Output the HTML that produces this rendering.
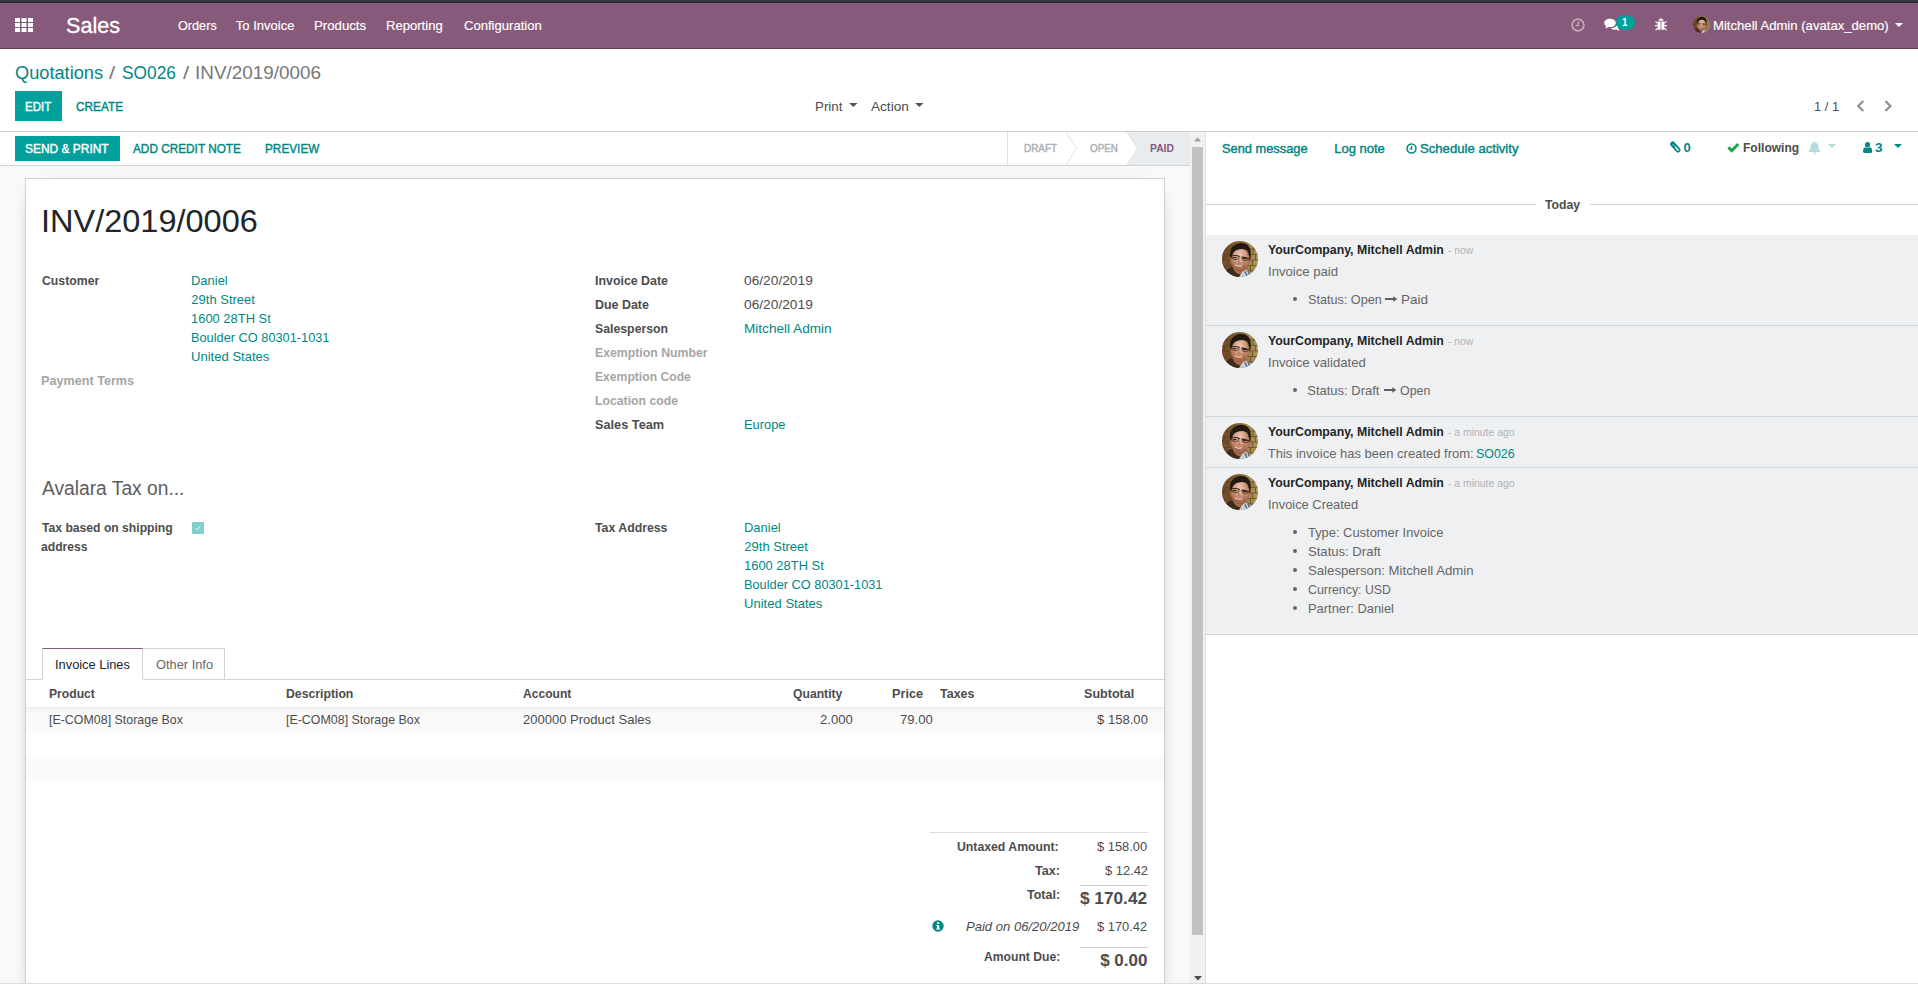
<!DOCTYPE html>
<html lang="en">
<head>
<meta charset="utf-8">
<title>INV/2019/0006 - Odoo</title>
<style>
html,body{margin:0;padding:0;}
body{width:1918px;height:984px;overflow:hidden;background:#fff;position:relative;
 font-family:"Liberation Sans",sans-serif;font-size:13px;color:#4c4c4c;}
.a{position:absolute;}
.t{position:absolute;white-space:nowrap;line-height:1;transform-origin:0 0;}
svg{position:absolute;overflow:visible;}
</style>
</head>
<body>
<!-- top dark strip -->
<div class="a" style="left:0;top:0;width:1918px;height:2px;background:#34373a;"></div><div class="a" style="left:0;top:2px;width:1918px;height:1px;background:#262929;"></div>
<!-- navbar -->
<div class="a" style="left:0;top:3px;width:1918px;height:45px;background:#875A7B;border-bottom:1px solid #5f3f57;"></div><div class="a" style="left:0;top:3px;width:1918px;height:1px;background:#8e5f82;"></div>
<!-- apps grid icon -->
<svg style="left:15px;top:18px" width="18" height="14" viewBox="0 0 18 14"><g fill="#fff">
<rect x="0" y="0" width="5" height="4"/><rect x="6.5" y="0" width="5" height="4"/><rect x="13" y="0" width="5" height="4"/>
<rect x="0" y="5" width="5" height="4"/><rect x="6.5" y="5" width="5" height="4"/><rect x="13" y="5" width="5" height="4"/>
<rect x="0" y="10" width="5" height="4"/><rect x="6.5" y="10" width="5" height="4"/><rect x="13" y="10" width="5" height="4"/>
</g></svg>
<svg style="left:1571px;top:17.500px" width="14" height="14" viewBox="0 0 14 14"><circle cx="7" cy="7" r="5.9" fill="none" stroke="#fff" stroke-opacity=".5" stroke-width="1.6"/><path d="M7.3 3.6v3.9H4.6" fill="none" stroke="#fff" stroke-opacity=".5" stroke-width="1.5"/></svg>
<svg style="left:1604px;top:18px" width="16" height="14" viewBox="0 0 16 14"><g fill="#fff"><path d="M6 0.8C2.7 0.8 0.2 2.6 0.2 5c0 1.3.8 2.4 2 3.2-.2.8-.7 1.500-1.300 2.100 1.400-.1 2.700-.6 3.600-1.400.5.1 1 .1 1.500.1 3.300 0 5.800-1.800 5.800-4.100S9.300.8 6 .8z"/><path d="M13.8 10.500c1.200-.7 2-1.800 2-3 0-1.300-.9-2.500-2.300-3.200.1.300.1.700.1 1 0 2.900-3.100 5.100-7 5.200 1 .9 2.600 1.500 4.400 1.500.5 0 1 0 1.500-.1.900.8 2.100 1.300 3.500 1.400-.6-.6-1.100-1.300-1.300-2.100z" transform="translate(0,-0.300)"/></g></svg>
<div class="a" style="left:1616px;top:15px;width:19px;height:15px;border-radius:8px;background:#00A09D;"></div>
<svg style="left:1655px;top:18px" width="12" height="13" viewBox="0 0 12 13"><g fill="#fff"><path d="M3.600 2.700a2.400 2.200 0 0 1 4.800 0z"/><rect x="2.600" y="3.500" width="3" height="8.300" rx=".6"/><rect x="6.400" y="3.500" width="3" height="8.300" rx=".6"/></g><g stroke="#fff" stroke-width="1.1" fill="none"><path d="M2.600 5.200L.5 3.300M9.400 5.200l2.100-1.900M2.600 7.600H0M9.400 7.600H12M2.600 10l-2 2.300M9.400 10l2 2.300"/></g></svg>
<svg style="left:1693px;top:16px" width="17" height="17" viewBox="0 0 36 36">
<defs><clipPath id="cpa1"><circle cx="18" cy="18" r="18"/></clipPath>
<radialGradient id="fga1" cx=".55" cy=".32" r=".75"><stop offset="0" stop-color="#ecc9b6"/><stop offset=".45" stop-color="#cf987c"/><stop offset=".8" stop-color="#a8694c"/><stop offset="1" stop-color="#7c4a33"/></radialGradient>
<linearGradient id="bga1" x1="0" x2="1" y1="0" y2="0"><stop offset="0" stop-color="#6a4526"/><stop offset=".35" stop-color="#7d5a30"/><stop offset=".7" stop-color="#9c8148"/><stop offset="1" stop-color="#ac9658"/></linearGradient></defs>
<g clip-path="url(#cpa1)">
<rect width="36" height="36" fill="url(#bga1)"/>
<g stroke="#5b4323" stroke-width=".9" fill="none" opacity=".75"><path d="M0 8h36M0 13.500h36M0 19h36M0 24.500h36M0 30h36"/><path d="M5 8v5.500M31 8v5.500M2 13.500V19M33.500 13.500V19M5.500 19v5.500M30.500 19v5.500M2.500 24.500V30M28.500 24.500V30M32 2.500V8"/></g>
<rect x="1" y="9" width="4" height="4" fill="#8a4a2c" opacity=".55"/><rect x="0" y="19.500" width="5" height="4.500" fill="#8c4f2e" opacity=".5"/>
<path d="M1 36 L5 28.500 Q10 23.500 15 28.500 L21 36 Z" fill="#3f2a1e"/>
<path d="M17 36 L21 29.500 Q26.500 27 31.500 36 Z" fill="#c9d1d8"/>
<path d="M22.800 30.300 l2.600 5.200 M25.800 29.800 l2.200 4.700" stroke="#3f5f7c" stroke-width="1.300"/>
<path d="M10.500 26 Q12.500 32.500 18.500 33.500 L21.500 29.500 L17 24 Z" fill="#a8694c"/>
<ellipse cx="17.600" cy="18.200" rx="9.300" ry="12.300" fill="url(#fga1)" transform="rotate(-9 17.600 18.200)"/>
<ellipse cx="27.300" cy="19" rx="1.500" ry="2.700" fill="#b57b5e"/>
<path d="M7.800 15 Q7.500 3.500 18.500 1.800 Q29 1.800 28.800 13.500 Q28.700 18.500 27.600 21 Q27.600 13 24.800 9.300 Q19 6.600 13.300 9.700 Q9.800 12.300 9.300 18.500 Z" fill="#241a13"/>
<path d="M9.200 15 Q13.300 13.700 17.800 15.500 M19.500 16.100 Q23.200 16 27.300 17.900" stroke="#33241c" stroke-width="1.100" fill="none"/>
<path d="M9.700 15.400 q.2 3.300 3.500 3.400 q3.300-.1 3.900-3.100" stroke="#443126" stroke-width=".8" fill="none"/>
<path d="M19.800 16.400 q.2 3.300 3.300 3.500 q2.900 0 3.400-2.700" stroke="#443126" stroke-width=".8" fill="none"/>
<path d="M11.300 16.600 h3.200 M21 17.600 h3.200" stroke="#2f211a" stroke-width="1.100"/>
<path d="M17.300 17.300 q-1 3 -.4 4.700 q.9 .6 2 .1" stroke="#a0604a" stroke-width=".8" fill="none"/>
<path d="M11.800 23.500 q4.200 3.500 8.800 1.300 q-3.600 4.200 -8.800 -1.300z" fill="#74292a"/>
<path d="M12.700 24 q3.600 2.300 7.200 .9" stroke="#f3e7df" stroke-width="1" fill="none"/>
<path d="M21.500 20.800 q1.700 3 .2 7.200" stroke="#9a5843" stroke-width="1" fill="none" opacity=".7"/>
</g></svg>
<svg style="left:1895px;top:23px" width="8" height="4" viewBox="0 0 8 4"><path d="M0 0h8L4 4z" fill="#fff"/></svg>

<!-- control panel -->
<div class="a" style="left:0;top:131px;width:1918px;height:1px;background:#ccc;"></div>
<div class="a" style="left:15px;top:91px;width:47px;height:30px;background:#00A09D;"></div>
<svg style="left:849px;top:103px" width="9" height="4" viewBox="0 0 9 4"><path d="M0 0h8.600L4.300 4z" fill="#555"/></svg>
<svg style="left:915px;top:103px" width="9" height="4" viewBox="0 0 9 4"><path d="M0 0h8.600L4.300 4z" fill="#555"/></svg>
<svg style="left:1856px;top:100px" width="9" height="12" viewBox="0 0 9 12"><path d="M7.300 1L2.300 6l5 5" fill="none" stroke="#8f9398" stroke-width="2.300"/></svg>
<svg style="left:1884px;top:100px" width="9" height="12" viewBox="0 0 9 12"><path d="M1.400 1l5 5-5 5" fill="none" stroke="#8f9398" stroke-width="2.300"/></svg>

<!-- form area bg -->
<div class="a" style="left:0;top:132px;width:1205px;height:852px;background:#f9f9f9;"></div>
<!-- statusbar -->
<div class="a" style="left:0;top:132px;width:1190px;height:33px;background:#fff;border-bottom:1px solid #ced4da;"></div>
<div class="a" style="left:15px;top:136px;width:105px;height:25px;background:#00A09D;"></div>
<div class="a" style="left:1007px;top:132px;width:1px;height:33px;background:#dee2e6;"></div>
<svg style="left:1060px;top:132px" width="130" height="33" viewBox="0 0 130 33"><path d="M67 0H130V33H67L77.500 16.500z" fill="#e9ecef"/><path d="M6 0L16.500 16.500 6 33" fill="none" stroke="#dee2e6" stroke-width="1"/><path d="M67 0L77.500 16.500 67 33" fill="none" stroke="#dee2e6" stroke-width="1"/></svg>

<!-- sheet -->
<div class="a" style="left:25px;top:178px;width:1138px;height:820px;background:#fff;border:1px solid #ccd1d8;box-shadow:0 5px 20px -15px #000;"></div>
<div class="a" style="left:192px;top:522px;width:12px;height:12px;background:#7fcfcd;border-radius:1px;"></div>
<svg style="left:195px;top:525px" width="6" height="6" viewBox="0 0 6 6"><path d="M.800 3.200l1.400 1.400L5.200 1.300" fill="none" stroke="#fff" stroke-width="1"/></svg>
<div class="a" style="left:26px;top:679px;width:1138px;height:1px;background:#ced4da;"></div>
<div class="a" style="left:42px;top:648px;width:99px;height:30px;background:#fff;border:1px solid #ced4da;border-top-color:#875A7B;border-bottom:1px solid #fff;"></div>
<div class="a" style="left:143px;top:648px;width:81px;height:30px;background:#fff;border:1px solid #ced4da;border-left:none;border-bottom:none;"></div>
<div class="a" style="left:26px;top:707px;width:1138px;height:25px;background:linear-gradient(#ebebeb 0,#f4f4f4 2px,#f8f8f8 5px,#fafafa 9px);"></div>
<div class="a" style="left:26px;top:756.600px;width:1138px;height:24.600px;background:#fafafa;"></div>
<div class="a" style="left:930px;top:832px;width:218px;height:1px;background:#dcdcdc;"></div>
<div class="a" style="left:1080px;top:885px;width:68px;height:1px;background:#ccc;"></div>
<div class="a" style="left:1080px;top:947px;width:68px;height:1px;background:#ccc;"></div>
<svg style="left:932px;top:920px" width="12" height="12" viewBox="0 0 12 12"><circle cx="6" cy="6" r="5.700" fill="#008784"/><rect x="5" y="5" width="2.200" height="4.300" fill="#fff"/><rect x="4.200" y="5" width="2" height="1" fill="#fff"/><rect x="4.200" y="8.500" width="3.800" height="1" fill="#fff"/><rect x="5" y="2.300" width="2.200" height="1.700" fill="#fff"/></svg>

<!-- scrollbar -->
<div class="a" style="left:1190px;top:132px;width:15px;height:852px;background:#f1f1f1;"></div>
<div class="a" style="left:1192px;top:147px;width:11px;height:788px;background:#c1c1c1;"></div>
<svg style="left:1193.800px;top:137.200px" width="8" height="5" viewBox="0 0 8 5"><path d="M0 4.400h7.200L3.600 .300z" fill="#a3a3a3"/></svg>
<svg style="left:1193.700px;top:976px" width="9" height="5" viewBox="0 0 9 5"><path d="M0 0h8L4 4.500z" fill="#505050"/></svg>

<!-- chatter -->
<div class="a" style="left:1205px;top:132px;width:713px;height:852px;background:#fff;border-left:1px solid #dfe3e9;box-sizing:border-box;"></div>
<div class="a" style="left:1206px;top:204px;width:329.500px;height:1px;background:#ced4da;"></div>
<div class="a" style="left:1590px;top:204px;width:328px;height:1px;background:#ced4da;"></div>
<div class="a" style="left:1206px;top:235px;width:712px;height:90px;background:#eff0f2;border-bottom:1px solid #d1d6dc;"></div>
<div class="a" style="left:1206px;top:326px;width:712px;height:90px;background:#eff0f2;border-bottom:1px solid #d1d6dc;"></div>
<div class="a" style="left:1206px;top:417px;width:712px;height:50px;background:#eff0f2;border-bottom:1px solid #d1d6dc;"></div>
<div class="a" style="left:1206px;top:468px;width:712px;height:166px;background:#eff0f2;border-bottom:1px solid #d1d6dc;"></div>
<svg style="left:1222px;top:241px" width="36" height="36" viewBox="0 0 36 36">
<defs><clipPath id="cpa2"><circle cx="18" cy="18" r="18"/></clipPath>
<radialGradient id="fga2" cx=".55" cy=".32" r=".75"><stop offset="0" stop-color="#ecc9b6"/><stop offset=".45" stop-color="#cf987c"/><stop offset=".8" stop-color="#a8694c"/><stop offset="1" stop-color="#7c4a33"/></radialGradient>
<linearGradient id="bga2" x1="0" x2="1" y1="0" y2="0"><stop offset="0" stop-color="#6a4526"/><stop offset=".35" stop-color="#7d5a30"/><stop offset=".7" stop-color="#9c8148"/><stop offset="1" stop-color="#ac9658"/></linearGradient></defs>
<g clip-path="url(#cpa2)">
<rect width="36" height="36" fill="url(#bga2)"/>
<g stroke="#5b4323" stroke-width=".9" fill="none" opacity=".75"><path d="M0 8h36M0 13.500h36M0 19h36M0 24.500h36M0 30h36"/><path d="M5 8v5.500M31 8v5.500M2 13.500V19M33.500 13.500V19M5.500 19v5.500M30.500 19v5.500M2.500 24.500V30M28.500 24.500V30M32 2.500V8"/></g>
<rect x="1" y="9" width="4" height="4" fill="#8a4a2c" opacity=".55"/><rect x="0" y="19.500" width="5" height="4.500" fill="#8c4f2e" opacity=".5"/>
<path d="M1 36 L5 28.500 Q10 23.500 15 28.500 L21 36 Z" fill="#3f2a1e"/>
<path d="M17 36 L21 29.500 Q26.500 27 31.500 36 Z" fill="#c9d1d8"/>
<path d="M22.800 30.300 l2.600 5.200 M25.800 29.800 l2.200 4.700" stroke="#3f5f7c" stroke-width="1.300"/>
<path d="M10.500 26 Q12.500 32.500 18.500 33.500 L21.500 29.500 L17 24 Z" fill="#a8694c"/>
<ellipse cx="17.600" cy="18.200" rx="9.300" ry="12.300" fill="url(#fga2)" transform="rotate(-9 17.600 18.200)"/>
<ellipse cx="27.300" cy="19" rx="1.500" ry="2.700" fill="#b57b5e"/>
<path d="M7.800 15 Q7.500 3.500 18.500 1.800 Q29 1.800 28.800 13.500 Q28.700 18.500 27.600 21 Q27.600 13 24.800 9.300 Q19 6.600 13.300 9.700 Q9.800 12.300 9.300 18.500 Z" fill="#241a13"/>
<path d="M9.200 15 Q13.300 13.700 17.800 15.500 M19.500 16.100 Q23.200 16 27.300 17.900" stroke="#33241c" stroke-width="1.100" fill="none"/>
<path d="M9.700 15.400 q.2 3.300 3.500 3.400 q3.300-.1 3.900-3.100" stroke="#443126" stroke-width=".8" fill="none"/>
<path d="M19.800 16.400 q.2 3.300 3.300 3.500 q2.900 0 3.400-2.700" stroke="#443126" stroke-width=".8" fill="none"/>
<path d="M11.300 16.600 h3.200 M21 17.600 h3.200" stroke="#2f211a" stroke-width="1.100"/>
<path d="M17.300 17.300 q-1 3 -.4 4.700 q.9 .6 2 .1" stroke="#a0604a" stroke-width=".8" fill="none"/>
<path d="M11.800 23.500 q4.200 3.500 8.800 1.300 q-3.600 4.200 -8.800 -1.300z" fill="#74292a"/>
<path d="M12.700 24 q3.600 2.300 7.200 .9" stroke="#f3e7df" stroke-width="1" fill="none"/>
<path d="M21.500 20.800 q1.700 3 .2 7.200" stroke="#9a5843" stroke-width="1" fill="none" opacity=".7"/>
</g></svg>
<svg style="left:1222px;top:332px" width="36" height="36" viewBox="0 0 36 36">
<defs><clipPath id="cpa3"><circle cx="18" cy="18" r="18"/></clipPath>
<radialGradient id="fga3" cx=".55" cy=".32" r=".75"><stop offset="0" stop-color="#ecc9b6"/><stop offset=".45" stop-color="#cf987c"/><stop offset=".8" stop-color="#a8694c"/><stop offset="1" stop-color="#7c4a33"/></radialGradient>
<linearGradient id="bga3" x1="0" x2="1" y1="0" y2="0"><stop offset="0" stop-color="#6a4526"/><stop offset=".35" stop-color="#7d5a30"/><stop offset=".7" stop-color="#9c8148"/><stop offset="1" stop-color="#ac9658"/></linearGradient></defs>
<g clip-path="url(#cpa3)">
<rect width="36" height="36" fill="url(#bga3)"/>
<g stroke="#5b4323" stroke-width=".9" fill="none" opacity=".75"><path d="M0 8h36M0 13.500h36M0 19h36M0 24.500h36M0 30h36"/><path d="M5 8v5.500M31 8v5.500M2 13.500V19M33.500 13.500V19M5.500 19v5.500M30.500 19v5.500M2.500 24.500V30M28.500 24.500V30M32 2.500V8"/></g>
<rect x="1" y="9" width="4" height="4" fill="#8a4a2c" opacity=".55"/><rect x="0" y="19.500" width="5" height="4.500" fill="#8c4f2e" opacity=".5"/>
<path d="M1 36 L5 28.500 Q10 23.500 15 28.500 L21 36 Z" fill="#3f2a1e"/>
<path d="M17 36 L21 29.500 Q26.500 27 31.500 36 Z" fill="#c9d1d8"/>
<path d="M22.800 30.300 l2.600 5.200 M25.800 29.800 l2.200 4.700" stroke="#3f5f7c" stroke-width="1.300"/>
<path d="M10.500 26 Q12.500 32.500 18.500 33.500 L21.500 29.500 L17 24 Z" fill="#a8694c"/>
<ellipse cx="17.600" cy="18.200" rx="9.300" ry="12.300" fill="url(#fga3)" transform="rotate(-9 17.600 18.200)"/>
<ellipse cx="27.300" cy="19" rx="1.500" ry="2.700" fill="#b57b5e"/>
<path d="M7.800 15 Q7.500 3.500 18.500 1.800 Q29 1.800 28.800 13.500 Q28.700 18.500 27.600 21 Q27.600 13 24.800 9.300 Q19 6.600 13.300 9.700 Q9.800 12.300 9.300 18.500 Z" fill="#241a13"/>
<path d="M9.200 15 Q13.300 13.700 17.800 15.500 M19.500 16.100 Q23.200 16 27.300 17.900" stroke="#33241c" stroke-width="1.100" fill="none"/>
<path d="M9.700 15.400 q.2 3.300 3.500 3.400 q3.300-.1 3.900-3.100" stroke="#443126" stroke-width=".8" fill="none"/>
<path d="M19.800 16.400 q.2 3.300 3.300 3.500 q2.900 0 3.400-2.700" stroke="#443126" stroke-width=".8" fill="none"/>
<path d="M11.300 16.600 h3.200 M21 17.600 h3.200" stroke="#2f211a" stroke-width="1.100"/>
<path d="M17.300 17.300 q-1 3 -.4 4.700 q.9 .6 2 .1" stroke="#a0604a" stroke-width=".8" fill="none"/>
<path d="M11.800 23.500 q4.200 3.500 8.800 1.300 q-3.600 4.200 -8.800 -1.300z" fill="#74292a"/>
<path d="M12.700 24 q3.600 2.300 7.200 .9" stroke="#f3e7df" stroke-width="1" fill="none"/>
<path d="M21.500 20.800 q1.700 3 .2 7.200" stroke="#9a5843" stroke-width="1" fill="none" opacity=".7"/>
</g></svg>
<svg style="left:1222px;top:423px" width="36" height="36" viewBox="0 0 36 36">
<defs><clipPath id="cpa4"><circle cx="18" cy="18" r="18"/></clipPath>
<radialGradient id="fga4" cx=".55" cy=".32" r=".75"><stop offset="0" stop-color="#ecc9b6"/><stop offset=".45" stop-color="#cf987c"/><stop offset=".8" stop-color="#a8694c"/><stop offset="1" stop-color="#7c4a33"/></radialGradient>
<linearGradient id="bga4" x1="0" x2="1" y1="0" y2="0"><stop offset="0" stop-color="#6a4526"/><stop offset=".35" stop-color="#7d5a30"/><stop offset=".7" stop-color="#9c8148"/><stop offset="1" stop-color="#ac9658"/></linearGradient></defs>
<g clip-path="url(#cpa4)">
<rect width="36" height="36" fill="url(#bga4)"/>
<g stroke="#5b4323" stroke-width=".9" fill="none" opacity=".75"><path d="M0 8h36M0 13.500h36M0 19h36M0 24.500h36M0 30h36"/><path d="M5 8v5.500M31 8v5.500M2 13.500V19M33.500 13.500V19M5.500 19v5.500M30.500 19v5.500M2.500 24.500V30M28.500 24.500V30M32 2.500V8"/></g>
<rect x="1" y="9" width="4" height="4" fill="#8a4a2c" opacity=".55"/><rect x="0" y="19.500" width="5" height="4.500" fill="#8c4f2e" opacity=".5"/>
<path d="M1 36 L5 28.500 Q10 23.500 15 28.500 L21 36 Z" fill="#3f2a1e"/>
<path d="M17 36 L21 29.500 Q26.500 27 31.500 36 Z" fill="#c9d1d8"/>
<path d="M22.800 30.300 l2.600 5.200 M25.800 29.800 l2.200 4.700" stroke="#3f5f7c" stroke-width="1.300"/>
<path d="M10.500 26 Q12.500 32.500 18.500 33.500 L21.500 29.500 L17 24 Z" fill="#a8694c"/>
<ellipse cx="17.600" cy="18.200" rx="9.300" ry="12.300" fill="url(#fga4)" transform="rotate(-9 17.600 18.200)"/>
<ellipse cx="27.300" cy="19" rx="1.500" ry="2.700" fill="#b57b5e"/>
<path d="M7.800 15 Q7.500 3.500 18.500 1.800 Q29 1.800 28.800 13.500 Q28.700 18.500 27.600 21 Q27.600 13 24.800 9.300 Q19 6.600 13.300 9.700 Q9.800 12.300 9.300 18.500 Z" fill="#241a13"/>
<path d="M9.200 15 Q13.300 13.700 17.800 15.500 M19.500 16.100 Q23.200 16 27.300 17.900" stroke="#33241c" stroke-width="1.100" fill="none"/>
<path d="M9.700 15.400 q.2 3.300 3.500 3.400 q3.300-.1 3.900-3.100" stroke="#443126" stroke-width=".8" fill="none"/>
<path d="M19.800 16.400 q.2 3.300 3.300 3.500 q2.900 0 3.400-2.700" stroke="#443126" stroke-width=".8" fill="none"/>
<path d="M11.300 16.600 h3.200 M21 17.600 h3.200" stroke="#2f211a" stroke-width="1.100"/>
<path d="M17.300 17.300 q-1 3 -.4 4.700 q.9 .6 2 .1" stroke="#a0604a" stroke-width=".8" fill="none"/>
<path d="M11.800 23.500 q4.200 3.500 8.800 1.300 q-3.600 4.200 -8.800 -1.300z" fill="#74292a"/>
<path d="M12.700 24 q3.600 2.300 7.200 .9" stroke="#f3e7df" stroke-width="1" fill="none"/>
<path d="M21.500 20.800 q1.700 3 .2 7.200" stroke="#9a5843" stroke-width="1" fill="none" opacity=".7"/>
</g></svg>
<svg style="left:1222px;top:474px" width="36" height="36" viewBox="0 0 36 36">
<defs><clipPath id="cpa5"><circle cx="18" cy="18" r="18"/></clipPath>
<radialGradient id="fga5" cx=".55" cy=".32" r=".75"><stop offset="0" stop-color="#ecc9b6"/><stop offset=".45" stop-color="#cf987c"/><stop offset=".8" stop-color="#a8694c"/><stop offset="1" stop-color="#7c4a33"/></radialGradient>
<linearGradient id="bga5" x1="0" x2="1" y1="0" y2="0"><stop offset="0" stop-color="#6a4526"/><stop offset=".35" stop-color="#7d5a30"/><stop offset=".7" stop-color="#9c8148"/><stop offset="1" stop-color="#ac9658"/></linearGradient></defs>
<g clip-path="url(#cpa5)">
<rect width="36" height="36" fill="url(#bga5)"/>
<g stroke="#5b4323" stroke-width=".9" fill="none" opacity=".75"><path d="M0 8h36M0 13.500h36M0 19h36M0 24.500h36M0 30h36"/><path d="M5 8v5.500M31 8v5.500M2 13.500V19M33.500 13.500V19M5.500 19v5.500M30.500 19v5.500M2.500 24.500V30M28.500 24.500V30M32 2.500V8"/></g>
<rect x="1" y="9" width="4" height="4" fill="#8a4a2c" opacity=".55"/><rect x="0" y="19.500" width="5" height="4.500" fill="#8c4f2e" opacity=".5"/>
<path d="M1 36 L5 28.500 Q10 23.500 15 28.500 L21 36 Z" fill="#3f2a1e"/>
<path d="M17 36 L21 29.500 Q26.500 27 31.500 36 Z" fill="#c9d1d8"/>
<path d="M22.800 30.300 l2.600 5.200 M25.800 29.800 l2.200 4.700" stroke="#3f5f7c" stroke-width="1.300"/>
<path d="M10.500 26 Q12.500 32.500 18.500 33.500 L21.500 29.500 L17 24 Z" fill="#a8694c"/>
<ellipse cx="17.600" cy="18.200" rx="9.300" ry="12.300" fill="url(#fga5)" transform="rotate(-9 17.600 18.200)"/>
<ellipse cx="27.300" cy="19" rx="1.500" ry="2.700" fill="#b57b5e"/>
<path d="M7.800 15 Q7.500 3.500 18.500 1.800 Q29 1.800 28.800 13.500 Q28.700 18.500 27.600 21 Q27.600 13 24.800 9.300 Q19 6.600 13.300 9.700 Q9.800 12.300 9.300 18.500 Z" fill="#241a13"/>
<path d="M9.200 15 Q13.300 13.700 17.800 15.500 M19.500 16.100 Q23.200 16 27.300 17.900" stroke="#33241c" stroke-width="1.100" fill="none"/>
<path d="M9.700 15.400 q.2 3.300 3.500 3.400 q3.300-.1 3.900-3.100" stroke="#443126" stroke-width=".8" fill="none"/>
<path d="M19.800 16.400 q.2 3.300 3.300 3.500 q2.900 0 3.400-2.700" stroke="#443126" stroke-width=".8" fill="none"/>
<path d="M11.300 16.600 h3.200 M21 17.600 h3.200" stroke="#2f211a" stroke-width="1.100"/>
<path d="M17.300 17.300 q-1 3 -.4 4.700 q.9 .6 2 .1" stroke="#a0604a" stroke-width=".8" fill="none"/>
<path d="M11.800 23.500 q4.200 3.500 8.800 1.300 q-3.600 4.200 -8.800 -1.300z" fill="#74292a"/>
<path d="M12.700 24 q3.600 2.300 7.200 .9" stroke="#f3e7df" stroke-width="1" fill="none"/>
<path d="M21.500 20.800 q1.700 3 .2 7.200" stroke="#9a5843" stroke-width="1" fill="none" opacity=".7"/>
</g></svg>
<svg style="left:1406px;top:143px" width="11" height="11" viewBox="0 0 11 11"><circle cx="5.500" cy="5.500" r="4.500" fill="none" stroke="#008784" stroke-width="1.500"/><path d="M5.700 3v2.800H3.600" fill="none" stroke="#008784" stroke-width="1.300"/></svg>
<svg style="left:1669px;top:140px" width="13" height="14" viewBox="0 0 13 14"><path d="M3.600 4L9.100 10" stroke="#008784" stroke-width="5" stroke-linecap="round" fill="none"/><path d="M4 4.400L6 6.600" stroke="#fff" stroke-width=".9" stroke-linecap="round" opacity=".7"/><path d="M6.800 7.600L9.200 10.200" stroke="#fff" stroke-width="1.500" stroke-linecap="round"/></svg>
<svg style="left:1727px;top:142px" width="13" height="11" viewBox="0 0 13 11"><path d="M1.400 5.400L4.800 8.700 11.200 2" fill="none" stroke="#1aa64a" stroke-width="2.900"/></svg>
<svg style="left:1808px;top:141px" width="13" height="13" viewBox="0 0 13 13"><path d="M6.500 0.500c.5 0 .8.300.8.800v.3c1.900.4 3.100 2 3.100 4 0 2.400.6 3.600 1.900 4.700v.7H.700v-.7C2 9.200 2.600 8 2.600 5.600c0-2 1.200-3.600 3.100-4v-.3c0-.5.300-.8.800-.8zM5 11.500h3a1.500 1.500 0 0 1-3 0z" fill="#b2dcdb"/></svg>
<svg style="left:1828px;top:144px" width="8" height="4" viewBox="0 0 8 4"><path d="M0 0h8L4 4z" fill="#b2dcdb"/></svg>
<svg style="left:1862.800px;top:141.700px" width="9.200" height="11" viewBox="0 0 9.200 11"><circle cx="4.600" cy="2.700" r="2.600" fill="#008784"/><path d="M0 9.300C0 6.500 1.200 5.300 2.800 5.200c.5.400 1.100.6 1.800.6s1.300-.2 1.800-.6C8 5.300 9.200 6.500 9.200 9.300c0 1-.6 1.600-1.500 1.600H1.500C.6 10.900 0 10.300 0 9.300z" fill="#008784"/></svg>
<svg style="left:1894px;top:144px" width="8" height="4" viewBox="0 0 8 4"><path d="M0 0h8L4 4z" fill="#008784"/></svg>

<div class="a" style="left:1292.900px;top:297.200px;width:4.100px;height:4.100px;border-radius:3px;background:#666;"></div>
<div class="a" style="left:1292.900px;top:388.200px;width:4.100px;height:4.100px;border-radius:3px;background:#666;"></div>
<div class="a" style="left:1292.900px;top:530.200px;width:4.100px;height:4.100px;border-radius:3px;background:#666;"></div>
<div class="a" style="left:1292.900px;top:549.200px;width:4.100px;height:4.100px;border-radius:3px;background:#666;"></div>
<div class="a" style="left:1292.900px;top:568.200px;width:4.100px;height:4.100px;border-radius:3px;background:#666;"></div>
<div class="a" style="left:1292.900px;top:587.200px;width:4.100px;height:4.100px;border-radius:3px;background:#666;"></div>
<div class="a" style="left:1292.900px;top:606.200px;width:4.100px;height:4.100px;border-radius:3px;background:#666;"></div>
<div class="a" style="left:0;top:983px;width:1918px;height:1px;background:#dcdcdc;"></div>
<svg style="left:1385px;top:296.2px" width="13" height="6" viewBox="0 0 13 6"><path d="M0 2.100H8.300V.300L12.400 3 8.300 5.700V3.900H0z" fill="#5f5f5f"/></svg>
<svg style="left:1383.6px;top:387.2px" width="13" height="6" viewBox="0 0 13 6"><path d="M0 2.100H8.300V.300L12.400 3 8.300 5.700V3.900H0z" fill="#5f5f5f"/></svg>
<span class="t" id="brand" style="top:15.18px;font-size:22px;color:#fff;transform:scaleX(0.9810);left:65.78px;-webkit-text-stroke:.3px #fff;">Sales</span>
<span class="t" id="m1" style="top:19.00px;font-size:13px;color:#fff;transform:scaleX(0.9748);left:177.80px;-webkit-text-stroke:.15px #fff;">Orders</span>
<span class="t" id="m2" style="top:19.00px;font-size:13px;color:#fff;left:235.86px;-webkit-text-stroke:.15px #fff;">To Invoice</span>
<span class="t" id="m3" style="top:19.00px;font-size:13px;color:#fff;transform:scaleX(1.0157);left:314.43px;-webkit-text-stroke:.15px #fff;">Products</span>
<span class="t" id="m4" style="top:19.00px;font-size:13px;color:#fff;transform:scaleX(1.0056);left:386.43px;-webkit-text-stroke:.15px #fff;">Reporting</span>
<span class="t" id="m5" style="top:19.00px;font-size:13px;color:#fff;transform:scaleX(1.0060);left:463.89px;-webkit-text-stroke:.15px #fff;">Configuration</span>
<span class="t" id="user" style="top:19.00px;font-size:13px;color:#fff;transform:scaleX(1.0092);left:1713.33px;-webkit-text-stroke:.15px #fff;">Mitchell Admin (avatax_demo)</span>
<span class="t" id="badge" style="top:17.11px;font-size:10.5px;color:#fff;font-weight:700;transform:scaleX(0.9298);left:1621.98px;">1</span>
<span class="t" id="bc1" style="top:63.76px;font-size:18px;color:#008784;transform:scaleX(1.0119);left:14.71px;">Quotations</span>
<span class="t" id="bc1s" style="top:63.76px;font-size:18px;color:#777;transform:scaleX(1.2278);left:109.20px;">/</span>
<span class="t" id="bc2" style="top:63.76px;font-size:18px;color:#008784;transform:scaleX(0.9622);left:121.54px;">SO026</span>
<span class="t" id="bc2s" style="top:63.76px;font-size:18px;color:#777;transform:scaleX(1.2278);left:182.60px;">/</span>
<span class="t" id="bc3" style="top:63.76px;font-size:18px;color:#777;transform:scaleX(1.0488);left:194.54px;">INV/2019/0006</span>
<span class="t" id="edit" style="top:100.00px;font-size:13px;color:#fff;-webkit-text-stroke:.42px #fff;transform:scaleX(0.8827);left:24.98px;">EDIT</span>
<span class="t" id="create" style="top:100.00px;font-size:13px;color:#008784;-webkit-text-stroke:.42px #008784;transform:scaleX(0.9082);left:76.15px;">CREATE</span>
<span class="t" id="print" style="top:100.00px;font-size:13px;color:#4c4c4c;transform:scaleX(1.0236);left:814.82px;">Print</span>
<span class="t" id="action" style="top:100.00px;font-size:13px;color:#4c4c4c;transform:scaleX(1.0455);left:870.79px;">Action</span>
<span class="t" id="pager" style="top:100.00px;font-size:13px;color:#4c4c4c;transform:scaleX(0.9902);left:1813.53px;">1 / 1</span>
<span class="t" id="sp" style="top:142.00px;font-size:13px;color:#fff;-webkit-text-stroke:.42px #fff;transform:scaleX(0.9189);left:25.06px;">SEND &amp; PRINT</span>
<span class="t" id="acn" style="top:142.00px;font-size:13px;color:#008784;-webkit-text-stroke:.42px #008784;transform:scaleX(0.9074);left:133.26px;">ADD CREDIT NOTE</span>
<span class="t" id="prev" style="top:142.00px;font-size:13px;color:#008784;-webkit-text-stroke:.42px #008784;transform:scaleX(0.9073);left:264.84px;">PREVIEW</span>
<span class="t" id="st1" style="top:142.69px;font-size:11px;color:#a9aeb5;-webkit-text-stroke:.42px #a9aeb5;transform:scaleX(0.9016);left:1024.11px;">DRAFT</span>
<span class="t" id="st2" style="top:142.69px;font-size:11px;color:#a9aeb5;-webkit-text-stroke:.42px #a9aeb5;transform:scaleX(0.8951);left:1089.55px;">OPEN</span>
<span class="t" id="st3" style="top:142.69px;font-size:11px;color:#875A7B;font-weight:700;transform:scaleX(0.9404);left:1149.80px;">PAID</span>
<span class="t" id="h1" style="top:205.76px;font-size:31px;color:#212529;transform:scaleX(1.0483);left:41.31px;">INV/2019/0006</span>
<span class="t" id="l_cust" style="top:274.00px;font-size:13px;color:#4c4c4c;font-weight:700;transform:scaleX(0.9435);left:42.05px;">Customer</span>
<span class="t" id="ca1" style="top:274.00px;font-size:13px;color:#008784;transform:scaleX(0.9972);left:191.01px;">Daniel</span>
<span class="t" id="ca2" style="top:293.00px;font-size:13px;color:#008784;left:191.32px;">29th Street</span>
<span class="t" id="ca3" style="top:312.00px;font-size:13px;color:#008784;transform:scaleX(0.9951);left:191.34px;">1600 28TH St</span>
<span class="t" id="ca4" style="top:331.00px;font-size:13px;color:#008784;transform:scaleX(0.9826);left:191.02px;">Boulder CO 80301-1031</span>
<span class="t" id="ca5" style="top:350.00px;font-size:13px;color:#008784;transform:scaleX(1.0046);left:190.96px;">United States</span>
<span class="t" id="l_pt" style="top:373.50px;font-size:13px;color:#a5a5a5;font-weight:700;transform:scaleX(0.9711);left:41.42px;">Payment Terms</span>
<span class="t" id="rl0" style="top:274.00px;font-size:13px;color:#4c4c4c;font-weight:700;transform:scaleX(0.9528);left:594.71px;">Invoice Date</span>
<span class="t" id="rl1" style="top:298.00px;font-size:13px;color:#4c4c4c;font-weight:700;transform:scaleX(0.9572);left:594.71px;">Due Date</span>
<span class="t" id="rl2" style="top:322.00px;font-size:13px;color:#4c4c4c;font-weight:700;transform:scaleX(0.9456);left:594.82px;">Salesperson</span>
<span class="t" id="rl3" style="top:346.00px;font-size:13px;color:#a5a5a5;font-weight:700;transform:scaleX(0.9444);left:594.76px;">Exemption Number</span>
<span class="t" id="rl4" style="top:370.00px;font-size:13px;color:#a5a5a5;font-weight:700;transform:scaleX(0.9341);left:594.76px;">Exemption Code</span>
<span class="t" id="rl5" style="top:394.00px;font-size:13px;color:#a5a5a5;font-weight:700;transform:scaleX(0.9417);left:594.76px;">Location code</span>
<span class="t" id="rl6" style="top:418.00px;font-size:13px;color:#4c4c4c;font-weight:700;transform:scaleX(0.9796);left:594.81px;">Sales Team</span>
<span class="t" id="rv0" style="top:274.00px;font-size:13px;color:#4c4c4c;transform:scaleX(1.0574);left:744.20px;">06/20/2019</span>
<span class="t" id="rv1" style="top:298.00px;font-size:13px;color:#4c4c4c;transform:scaleX(1.0574);left:744.20px;">06/20/2019</span>
<span class="t" id="rv2" style="top:322.00px;font-size:13px;color:#008784;transform:scaleX(1.0451);left:743.88px;">Mitchell Admin</span>
<span class="t" id="rv6" style="top:418.00px;font-size:13px;color:#008784;transform:scaleX(0.9887);left:744.01px;">Europe</span>
<span class="t" id="h2" style="top:477.87px;font-size:20px;color:#5e5e5e;transform:scaleX(0.9607);left:41.56px;">Avalara Tax on...</span>
<span class="t" id="l_tb1" style="top:520.50px;font-size:13px;color:#4c4c4c;font-weight:700;transform:scaleX(0.9344);left:41.70px;">Tax based on shipping</span>
<span class="t" id="l_tb2" style="top:539.50px;font-size:13px;color:#4c4c4c;font-weight:700;transform:scaleX(0.9337);left:41.17px;">address</span>
<span class="t" id="l_ta" style="top:520.50px;font-size:13px;color:#4c4c4c;font-weight:700;transform:scaleX(0.9462);left:595.00px;">Tax Address</span>
<span class="t" id="ta1" style="top:520.50px;font-size:13px;color:#008784;transform:scaleX(0.9972);left:744.01px;">Daniel</span>
<span class="t" id="ta2" style="top:539.50px;font-size:13px;color:#008784;left:744.32px;">29th Street</span>
<span class="t" id="ta3" style="top:558.50px;font-size:13px;color:#008784;transform:scaleX(0.9951);left:744.34px;">1600 28TH St</span>
<span class="t" id="ta4" style="top:577.50px;font-size:13px;color:#008784;transform:scaleX(0.9826);left:744.02px;">Boulder CO 80301-1031</span>
<span class="t" id="ta5" style="top:596.50px;font-size:13px;color:#008784;transform:scaleX(1.0046);left:743.96px;">United States</span>
<span class="t" id="tab1" style="top:658.00px;font-size:13px;color:#212529;transform:scaleX(0.9875);left:55.06px;">Invoice Lines</span>
<span class="t" id="tab2" style="top:658.00px;font-size:13px;color:#666;transform:scaleX(0.9874);left:155.71px;">Other Info</span>
<span class="t" id="th1" style="top:687.00px;font-size:13px;color:#4c4c4c;font-weight:700;transform:scaleX(0.9337);left:48.74px;">Product</span>
<span class="t" id="th2" style="top:687.00px;font-size:13px;color:#4c4c4c;font-weight:700;transform:scaleX(0.9415);left:285.74px;">Description</span>
<span class="t" id="th3" style="top:687.00px;font-size:13px;color:#4c4c4c;font-weight:700;transform:scaleX(0.9286);left:523.43px;">Account</span>
<span class="t" id="th4" style="top:687.00px;font-size:13px;color:#4c4c4c;font-weight:700;transform:scaleX(0.9366);left:792.84px;">Quantity</span>
<span class="t" id="th5" style="top:687.00px;font-size:13px;color:#4c4c4c;font-weight:700;transform:scaleX(0.9748);left:892.17px;">Price</span>
<span class="t" id="th6" style="top:687.00px;font-size:13px;color:#4c4c4c;font-weight:700;transform:scaleX(0.9608);left:940.00px;">Taxes</span>
<span class="t" id="th7" style="top:687.00px;font-size:13px;color:#4c4c4c;font-weight:700;transform:scaleX(0.9670);left:1083.81px;">Subtotal</span>
<span class="t" id="td1" style="top:712.50px;font-size:13px;color:#4c4c4c;transform:scaleX(0.9553);left:48.61px;">[E-COM08] Storage Box</span>
<span class="t" id="td2" style="top:712.50px;font-size:13px;color:#4c4c4c;transform:scaleX(0.9553);left:285.61px;">[E-COM08] Storage Box</span>
<span class="t" id="td3" style="top:712.50px;font-size:13px;color:#4c4c4c;left:523.11px;">200000 Product Sales</span>
<span class="t" id="td4" style="top:712.50px;font-size:13px;color:#4c4c4c;transform:scaleX(1.0074);left:820.47px;">2.000</span>
<span class="t" id="td5" style="top:712.50px;font-size:13px;color:#4c4c4c;transform:scaleX(1.0074);left:900.47px;">79.00</span>
<span class="t" id="td7" style="top:712.50px;font-size:13px;color:#4c4c4c;transform:scaleX(1.0060);left:1097.19px;">$ 158.00</span>
<span class="t" id="tl1" style="top:840.00px;font-size:13px;color:#4c4c4c;font-weight:700;transform:scaleX(0.9424);left:957.48px;">Untaxed Amount:</span>
<span class="t" id="tv1" style="top:840.00px;font-size:13px;color:#4c4c4c;transform:scaleX(0.9917);left:1096.99px;">$ 158.00</span>
<span class="t" id="tl2" style="top:864.00px;font-size:13px;color:#4c4c4c;font-weight:700;transform:scaleX(0.9735);left:1035.09px;">Tax:</span>
<span class="t" id="tv2" style="top:864.00px;font-size:13px;color:#4c4c4c;transform:scaleX(0.9925);left:1104.58px;">$ 12.42</span>
<span class="t" id="tl3" style="top:888.00px;font-size:13px;color:#4c4c4c;font-weight:700;transform:scaleX(0.9621);left:1027.09px;">Total:</span>
<span class="t" id="tv3" style="top:889.61px;font-size:17px;color:#4c4c4c;font-weight:700;transform:scaleX(1.0134);left:1080.14px;">$ 170.42</span>
<span class="t" id="tl4" style="top:920.00px;font-size:13px;color:#4c4c4c;font-style:italic;transform:scaleX(1.0041);left:965.65px;">Paid on 06/20/2019</span>
<span class="t" id="tv4" style="top:920.00px;font-size:13px;color:#4c4c4c;transform:scaleX(0.9906);left:1096.99px;">$ 170.42</span>
<span class="t" id="tl5" style="top:950.00px;font-size:13px;color:#4c4c4c;font-weight:700;transform:scaleX(0.9350);left:984.31px;">Amount Due:</span>
<span class="t" id="tv5" style="top:951.61px;font-size:17px;color:#4c4c4c;font-weight:700;left:1100.15px;">$ 0.00</span>
<span class="t" id="ch1" style="top:142.00px;font-size:13px;color:#008784;-webkit-text-stroke:.42px #008784;transform:scaleX(0.9863);left:1221.92px;">Send message</span>
<span class="t" id="ch2" style="top:142.00px;font-size:13px;color:#008784;-webkit-text-stroke:.42px #008784;left:1334.26px;">Log note</span>
<span class="t" id="ch3" style="top:142.00px;font-size:13px;color:#008784;-webkit-text-stroke:.42px #008784;transform:scaleX(1.0097);left:1419.92px;">Schedule activity</span>
<span class="t" id="ch4" style="top:141.00px;font-size:13px;color:#008784;font-weight:700;left:1683.58px;">0</span>
<span class="t" id="ch5" style="top:141.00px;font-size:13px;color:#4c4c4c;font-weight:700;transform:scaleX(0.9261);left:1742.74px;">Following</span>
<span class="t" id="ch6" style="top:141.00px;font-size:13px;color:#008784;font-weight:700;transform:scaleX(1.0462);left:1875.21px;">3</span>
<span class="t" id="today" style="top:198.00px;font-size:13px;color:#4c4c4c;font-weight:700;transform:scaleX(0.9377);left:1545.00px;">Today</span>
<span class="t" id="mn0" style="top:243.00px;font-size:13px;color:#212529;font-weight:700;transform:scaleX(0.9449);left:1268.38px;">YourCompany, Mitchell Admin</span>
<span class="t" id="ma0" style="top:244.69px;font-size:11px;color:#b0b3b8;transform:scaleX(0.9335);left:1448.16px;">- now</span>
<span class="t" id="mn1" style="top:334.00px;font-size:13px;color:#212529;font-weight:700;transform:scaleX(0.9449);left:1268.38px;">YourCompany, Mitchell Admin</span>
<span class="t" id="ma1" style="top:335.69px;font-size:11px;color:#b0b3b8;transform:scaleX(0.9335);left:1448.16px;">- now</span>
<span class="t" id="mn2" style="top:425.00px;font-size:13px;color:#212529;font-weight:700;transform:scaleX(0.9449);left:1268.38px;">YourCompany, Mitchell Admin</span>
<span class="t" id="ma2" style="top:426.69px;font-size:11px;color:#b0b3b8;transform:scaleX(0.9464);left:1448.14px;">- a minute ago</span>
<span class="t" id="mn3" style="top:476.00px;font-size:13px;color:#212529;font-weight:700;transform:scaleX(0.9449);left:1268.38px;">YourCompany, Mitchell Admin</span>
<span class="t" id="ma3" style="top:477.69px;font-size:11px;color:#b0b3b8;transform:scaleX(0.9464);left:1448.14px;">- a minute ago</span>
<span class="t" id="mb0" style="top:265.00px;font-size:13px;color:#666;transform:scaleX(1.0103);left:1267.85px;">Invoice paid</span>
<span class="t" id="ms0a" style="top:293.00px;font-size:13px;color:#666;transform:scaleX(0.9727);left:1307.57px;">Status: Open</span>
<span class="t" id="ms0b" style="top:293.00px;font-size:13px;color:#666;transform:scaleX(1.0369);left:1400.96px;">Paid</span>
<span class="t" id="mb1" style="top:356.00px;font-size:13px;color:#666;transform:scaleX(1.0099);left:1267.88px;">Invoice validated</span>
<span class="t" id="ms1a" style="top:384.00px;font-size:13px;color:#666;left:1307.24px;">Status: Draft</span>
<span class="t" id="ms1b" style="top:384.00px;font-size:13px;color:#666;transform:scaleX(0.9553);left:1400.06px;">Open</span>
<span class="t" id="mb2" style="top:447.00px;font-size:13px;color:#666;left:1267.78px;">This invoice has been created from:</span>
<span class="t" id="mb2l" style="top:447.00px;font-size:13px;color:#008784;transform:scaleX(0.9550);left:1475.98px;">SO026</span>
<span class="t" id="mb3" style="top:498.00px;font-size:13px;color:#666;transform:scaleX(0.9901);left:1267.90px;">Invoice Created</span>
<span class="t" id="li0" style="top:526.00px;font-size:13px;color:#666;transform:scaleX(0.9919);left:1307.78px;">Type: Customer Invoice</span>
<span class="t" id="li1" style="top:545.00px;font-size:13px;color:#666;transform:scaleX(1.0058);left:1307.55px;">Status: Draft</span>
<span class="t" id="li2" style="top:564.00px;font-size:13px;color:#666;transform:scaleX(1.0137);left:1307.54px;">Salesperson: Mitchell Admin</span>
<span class="t" id="li3" style="top:583.00px;font-size:13px;color:#666;transform:scaleX(0.9490);left:1308.06px;">Currency: USD</span>
<span class="t" id="li4" style="top:602.00px;font-size:13px;color:#666;transform:scaleX(0.9916);left:1308.20px;">Partner: Daniel</span>
</body>
</html>
